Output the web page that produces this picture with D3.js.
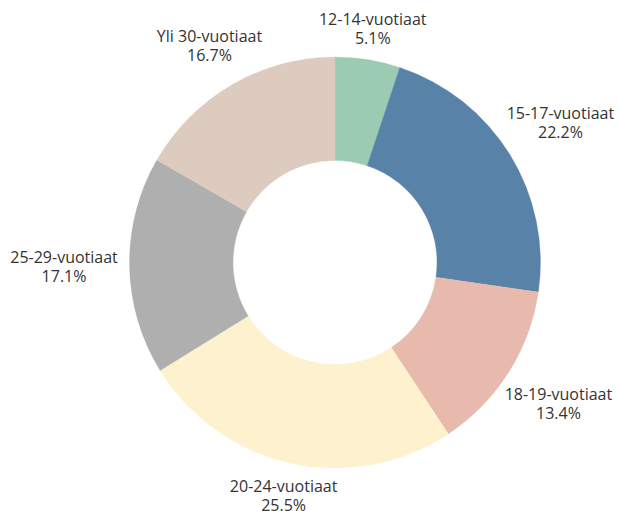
<!DOCTYPE html>
<html>
<head>
<meta charset="utf-8">
<script src="https://cdn.jsdelivr.net/npm/d3@7"></script>
<style>
  body { margin: 0; background: #fff; }
  text { font-family: "Open Sans", sans-serif; }
</style>
</head>
<body>
<div id="chart"></div>
<script>
// data
var categories = ["12-14-vuotiaat", "15-17-vuotiaat", "18-19-vuotiaat", "20-24-vuotiaat", "25-29-vuotiaat", "Yli 30-vuotiaat"];
var shares = [5.1, 22.2, 13.4, 25.5, 17.1, 16.7];
var colors = ["#9ccbb3", "#5882a8", "#e8b9ad", "#fdf2cd", "#afafaf", "#dccbbe"];

var width = 619, height = 511;
var cx = 335, cy = 262.5;
var outerR = 205.5, innerR = 102;

var svg = d3.select("#chart")
    .append("svg")
    .attr("width", width)
    .attr("height", height);

var g = svg.append("g")
    .attr("transform", `translate(${cx}, ${cy})`);

var pie = d3.pie().sort(null).value(d => d);
var arcs = pie(shares);

var arc = d3.arc().innerRadius(innerR).outerRadius(outerR);

// slices
g.selectAll("path")
    .data(arcs)
    .enter()
    .append("path")
    .attr("d", arc)
    .attr("fill", (d, i) => colors[i])
    .attr("stroke", (d, i) => colors[i])
    .attr("stroke-width", 0.3);

// labels, pushed further out on the sides since text is wider than tall
function labelPos(d) {
    var a = (d.startAngle + d.endAngle) / 2;
    var r = 230 + 41 * Math.abs(Math.sin(a));
    return [r * Math.sin(a), -r * Math.cos(a)];
}

var labels = g.selectAll("text.lbl")
    .data(arcs)
    .enter()
    .append("text")
    .attr("class", "lbl")
    .attr("text-anchor", "middle")
    .attr("font-size", "16px")
    .attr("fill", "#333")
    .attr("transform", d => `translate(${labelPos(d)})`);

labels.append("tspan")
    .attr("x", 0)
    .attr("y", -4)
    .text((d, i) => categories[i]);

labels.append("tspan")
    .attr("x", 0)
    .attr("y", 15)
    .text(d => d3.format(".1f")(d.data) + "%");
</script>
</body>
</html>
